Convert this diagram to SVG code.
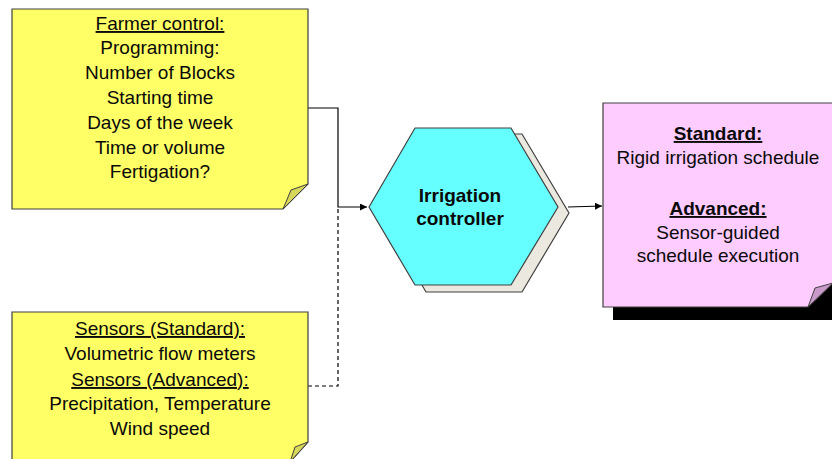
<svg xmlns="http://www.w3.org/2000/svg" width="832" height="459" viewBox="0 0 832 459">
  <defs>
    <marker id="arrow" viewBox="0 0 10 10" refX="10" refY="5" markerWidth="7" markerHeight="7" markerUnits="userSpaceOnUse" orient="auto">
      <path d="M0,0 L10,5 L0,10 z" fill="#000"/>
    </marker>
    <style>
      .note-y { fill: #ffff66; stroke: #404040; stroke-width: 1.2; }
      .fold-y { fill: #d6d65a; stroke: #404040; stroke-width: 1; }
      .note-p { fill: #ffccff; stroke: #404040; stroke-width: 1.2; }
      .fold-p { fill: #c99ac9; stroke: #404040; stroke-width: 1; }
      .hex { fill: #66ffff; stroke: #404040; stroke-width: 1.2; }
      .hex-shadow { fill: #ebe8df; stroke: #404040; stroke-width: 1.2; }
      .link { fill: none; stroke: #000; stroke-width: 1.2; }
      .dash { stroke-dasharray: 4 3; }
      text { font-family: "Liberation Sans", Arial, sans-serif; fill: #0a0a0a; text-anchor: middle; font-size: 19px; }
      .b { font-weight: bold; }
      .u { text-decoration: underline; }
    </style>
  </defs>

  <!-- connectors -->
  <g id="connectors">
    <polyline class="link" points="308,108 338,108 338,207 367,207" marker-end="url(#arrow)"/>
    <polyline class="link dash" points="308,386 338,386 338,207"/>
    <polyline class="link" points="568,207 602,206" marker-end="url(#arrow)"/>
  </g>

  <!-- farmer control note -->
  <g id="farmer-control">
    <path class="note-y" d="M12,9 H308 V184 L283,209 H12 Z"/>
    <path class="fold-y" d="M308,184 L291,190 L283,209 Z"/>
    <text class="u" x="160" y="30">Farmer control:</text>
    <text x="160" y="54">Programming:</text>
    <text x="160" y="79">Number of Blocks</text>
    <text x="160" y="104">Starting time</text>
    <text x="160" y="129">Days of the week</text>
    <text x="160" y="154">Time or volume</text>
    <text x="160" y="178">Fertigation?</text>
  </g>

  <!-- sensors note -->
  <g id="sensors">
    <path class="note-y" d="M12,312 H308 V442 L290,462 H12 Z"/>
    <path class="fold-y" d="M308,442 L295,447 L290,462 Z"/>
    <text class="u" x="160" y="335">Sensors (Standard):</text>
    <text x="160" y="360">Volumetric flow meters</text>
    <text class="u" x="160" y="386">Sensors (Advanced):</text>
    <text x="160" y="410">Precipitation, Temperature</text>
    <text x="160" y="435">Wind speed</text>
  </g>

  <!-- irrigation controller -->
  <g id="irrigation-controller">
    <polygon class="hex-shadow" points="380,213 426,134 522,134 569,213 522,292 426,292"/>
    <polygon class="hex" points="369,207 415,128 511,128 558,207 511,285 415,285"/>
    <text class="b" x="460" y="202">Irrigation</text>
    <text class="b" x="460" y="225">controller</text>
  </g>

  <!-- schedule output -->
  <g id="schedule">
    <rect x="613" y="116" width="230" height="204" fill="#000"/>
    <path class="note-p" d="M603,103 H833 V283 L808,307 H603 Z"/>
    <path class="fold-p" d="M833,283 L815,288 L808,307 Z"/>
    <text class="b u" x="718" y="140">Standard:</text>
    <text x="718" y="164">Rigid irrigation schedule</text>
    <text class="b u" x="718" y="215">Advanced:</text>
    <text x="718" y="239">Sensor-guided</text>
    <text x="718" y="262">schedule execution</text>
  </g>
</svg>
